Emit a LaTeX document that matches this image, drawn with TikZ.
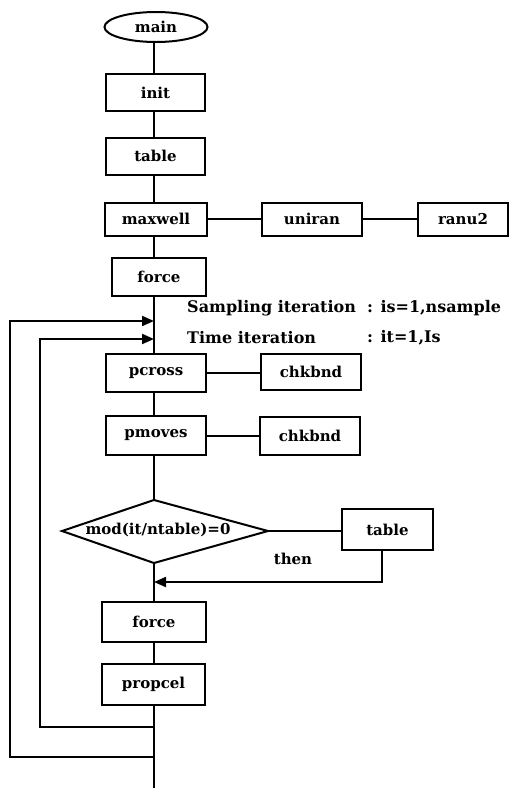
\documentclass[tikz,border=0pt]{standalone}
\usepackage{fontspec}
\setmainfont{DejaVu Serif}
\usetikzlibrary{arrows.meta,shapes.geometric}
\newcommand{\fsz}{\fontsize{15}{17}\selectfont\bfseries}
\newcommand{\fsl}{\fontsize{16}{18}\selectfont\bfseries}
\begin{document}
\begin{tikzpicture}[x=1pt,y=-1pt,
  box/.style={draw, line width=2pt, minimum height=37pt, inner sep=0pt, font=\fsz},
  ln/.style={line width=2pt},
  arr/.style={line width=2pt, -{Triangle[length=12pt,width=10pt]}},
  lbl/.style={font=\fsl, inner sep=0pt, anchor=west}]
\useasboundingbox (0,0) rectangle (513,788);
\coordinate (spine) at (154,0);
% main column
\node[draw, ellipse, line width=2pt, minimum width=103pt, minimum height=30pt, inner sep=0pt, font=\fsz] (main) at (156,27) {main};
\node[box, minimum width=99pt] (init) at (155.5,92.5) {init};
\node[box, minimum width=99pt] (table) at (155.5,156) {table};
\node[box, minimum width=102pt, minimum height=33pt] (maxwell) at (156,219) {maxwell};
\node[box, minimum width=100pt, minimum height=33pt] (uniran) at (312,219) {uniran};
\node[box, minimum width=90pt, minimum height=33pt] (ranu2) at (463,219) {ranu2};
\node[box, minimum width=94pt, minimum height=38pt] (force) at (159,276.5) {force};
\node[box, minimum width=100pt, minimum height=38pt] (pcross) at (156,373) {pcross};
\node[box, minimum width=100pt, minimum height=36pt] (chk1) at (311,372) {chkbnd};
\node[box, minimum width=100pt, minimum height=39pt] (pmoves) at (156,435.5) {pmoves};
\node[box, minimum width=100pt, minimum height=38pt] (chk2) at (310,436) {chkbnd};
% decision
\coordinate (dT) at (154,500);
\coordinate (dR) at (268,531);
\coordinate (dB) at (154,563);
\coordinate (dL) at (62,531);
\draw[ln] (dT) -- (dR) -- (dB) -- (dL) -- cycle;
\node[font=\fsz, inner sep=0pt] (cond) at (158,530) {mod(it/ntable)=0};
\node[box, minimum width=91pt, minimum height=41pt] (table2) at (387.5,529.5) {table};
\node[font=\fsz, inner sep=0pt] (then) at (293,559) {then};
\node[box, minimum width=104pt, minimum height=40pt] (force2) at (154,622) {force};
\node[box, minimum width=103pt, minimum height=41pt] (propcel) at (153.5,684.5) {propcel};
% labels
\node[lbl] (samp) at (187,308) {Sampling iteration};
\node[lbl] (sampv) at (367,308) {: is=1,nsample};
\node[lbl] (time) at (187,338) {Time iteration};
\node[lbl] (timev) at (367,338) {: it=1,Is};
% coordinates on spine
\coordinate (in2) at (154,339);
\coordinate (in1) at (154,321);
\coordinate (ret) at (154,582);
\coordinate (lp1) at (154,727);
\coordinate (lp2) at (154,757);
\coordinate (bot) at (154,788);
\coordinate (ia) at (40,727);
\coordinate (ib) at (40,339);
\coordinate (oa) at (10,757);
\coordinate (ob) at (10,321);
\coordinate (tb) at (382,582);
% connectors
\draw[ln] (main.south -| spine) -- (init.north -| spine);
\draw[ln] (init.south -| spine) -- (table.north -| spine);
\draw[ln] (table.south -| spine) -- (maxwell.north -| spine);
\draw[ln] (maxwell.east) -- (uniran.west);
\draw[ln] (uniran.east) -- (ranu2.west);
\draw[ln] (maxwell.south -| spine) -- (force.north -| spine);
\draw[ln] (force.south -| spine) -- (pcross.north -| spine);
\draw[ln] (pcross.east) -- (pcross.east -| chk1.west);
\draw[ln] (pcross.south -| spine) -- (pmoves.north -| spine);
\draw[ln] (pmoves.east) -- (pmoves.east -| chk2.west);
\draw[ln] (pmoves.south -| spine) -- (dT);
\draw[ln] (dR) -- (dR -| table2.west);
\draw[arr] (table2.south -| tb) -- (tb) -- (ret);
\draw[ln] (dB) -- (force2.north -| spine);
\draw[ln] (force2.south -| spine) -- (propcel.north -| spine);
\draw[ln] (propcel.south -| spine) -- (bot);
\draw[arr] (lp1) -- (ia) -- (ib) -- (in2);
\draw[arr] (lp2) -- (oa) -- (ob) -- (in1);
\end{tikzpicture}
\end{document}
